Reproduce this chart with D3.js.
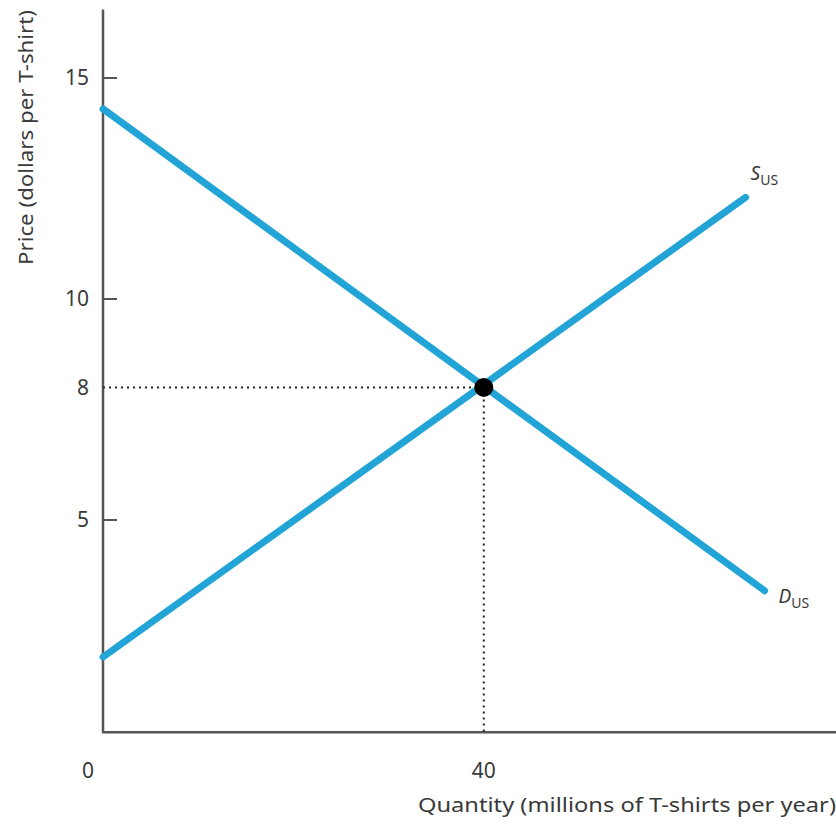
<!DOCTYPE html>
<html>
<head>
<meta charset="utf-8">
<script src="https://cdn.jsdelivr.net/npm/d3@7"></script>
<style>
  html, body { margin: 0; padding: 0; background: #fff; }
  svg { display: block; }
  text { font-family: "Noto Sans", "DejaVu Sans", sans-serif; fill: #3a3a3a; }
</style>
</head>
<body>
<svg id="chart" width="836" height="830"></svg>
<script>
// Market for T-shirts in the United States
const yTicks = [5, 8, 10, 15];
const xTicks = [0, 40];
const demandUS = [{q: 0, p: 14.3}, {q: 69.5, p: 3.4}];
const supplyUS = [{q: 0, p: 1.9}, {q: 67.5, p: 12.3}];
const equilibrium = {q: 40, p: 8};
const xTitle = "Quantity (millions of T-shirts per year)";
const yTitle = "Price (dollars per T-shirt)";

const svg = d3.select("#chart");

const x = d3.scaleLinear().domain([0, 77]).range([103, 836]);
const y = d3.scaleLinear().domain([0, 15]).range([741, 78]);
const yFloor = 0.2;   // where the quantity axis meets the price axis
const yTop = 16.55;

const blue = "#22a5d6";
const axisColor = "#555";

// axes
svg.append("line")
  .attr("x1", x(0)).attr("x2", x(0))
  .attr("y1", y(yTop)).attr("y2", y(yFloor))
  .attr("stroke", axisColor).attr("stroke-width", 2.5);
svg.append("line")
  .attr("x1", x(0) - 1).attr("x2", x(77))
  .attr("y1", y(yFloor)).attr("y2", y(yFloor))
  .attr("stroke", axisColor).attr("stroke-width", 2.5);

// price ticks (8 is marked by the dotted guide instead)
svg.selectAll(".ytick").data(yTicks.filter(d => d !== 8)).join("line")
  .attr("x1", x(0)).attr("x2", x(0) + 14)
  .attr("y1", d => y(d)).attr("y2", d => y(d))
  .attr("stroke", axisColor).attr("stroke-width", 2);

svg.selectAll(".ylab").data(yTicks).join("text")
  .attr("x", 89).attr("y", d => y(d)).attr("dy", "0.35em")
  .attr("text-anchor", "end").attr("font-size", 21)
  .text(d => d);

svg.selectAll(".xlab").data(xTicks).join("text")
  .attr("x", d => d === 0 ? 88 : x(d)).attr("y", 778)
  .attr("text-anchor", "middle").attr("font-size", 21)
  .text(d => d);

// axis titles
svg.append("text")
  .attr("x", 836).attr("y", 812)
  .attr("text-anchor", "end").attr("font-size", 19)
  .attr("textLength", 418).attr("lengthAdjust", "spacingAndGlyphs")
  .text(xTitle);
svg.append("text")
  .attr("transform", "translate(33,10) rotate(-90)")
  .attr("text-anchor", "end").attr("font-size", 19)
  .attr("textLength", 255).attr("lengthAdjust", "spacingAndGlyphs")
  .text(yTitle);

// dotted guides to equilibrium
svg.append("line")
  .attr("x1", x(0)).attr("x2", x(equilibrium.q))
  .attr("y1", y(equilibrium.p)).attr("y2", y(equilibrium.p))
  .attr("stroke", "#222").attr("stroke-width", 2)
  .attr("stroke-dasharray", "2,4");
svg.append("line")
  .attr("x1", x(equilibrium.q)).attr("x2", x(equilibrium.q))
  .attr("y1", y(equilibrium.p)).attr("y2", y(yFloor))
  .attr("stroke", "#222").attr("stroke-width", 2)
  .attr("stroke-dasharray", "2,4");

// curves
const line = d3.line().x(d => x(d.q)).y(d => y(d.p));
[demandUS, supplyUS].forEach(data => {
  svg.append("path").datum(data)
    .attr("d", line)
    .attr("fill", "none")
    .attr("stroke", blue).attr("stroke-width", 7)
    .attr("stroke-linecap", "round");
});

// equilibrium point
svg.append("circle")
  .attr("cx", x(equilibrium.q)).attr("cy", y(equilibrium.p))
  .attr("r", 9.5).attr("fill", "#000");

// curve labels
function curveLabel(letter, px, py) {
  const t = svg.append("text").attr("x", px).attr("y", py).attr("font-size", 19);
  t.append("tspan").attr("font-style", "italic").text(letter);
  t.append("tspan").attr("font-size", 14).attr("dy", 5).text("US");
}
const sEnd = supplyUS[supplyUS.length - 1];
const dEnd = demandUS[demandUS.length - 1];
curveLabel("S", x(sEnd.q) + 5, y(sEnd.p) - 17);
curveLabel("D", x(dEnd.q) + 14, y(dEnd.p) + 12);
</script>
</body>
</html>
